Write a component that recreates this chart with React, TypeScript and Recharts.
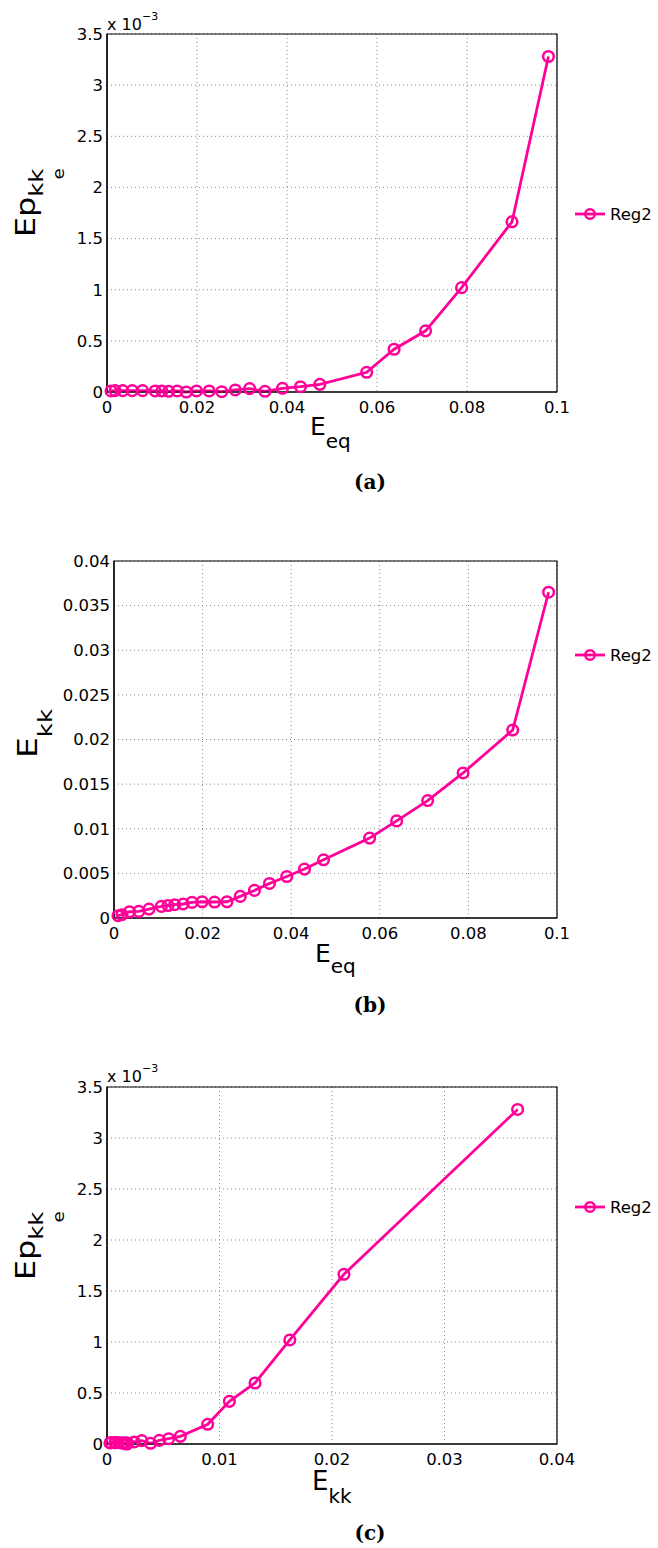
import React from 'react';
import { LineChart, Line, XAxis, YAxis, CartesianGrid, Legend, ReferenceArea } from 'recharts';

// Shared strain samples (Reg2)
const EEQ = [0.0009, 0.0018, 0.0035, 0.0056, 0.0079, 0.0107, 0.0122, 0.0137, 0.0156, 0.0176, 0.0199, 0.0227, 0.0255, 0.0285, 0.0317, 0.0351, 0.039, 0.043, 0.0473, 0.0577, 0.0638, 0.0708, 0.0788, 0.09, 0.0981];
const EKK = [0.00026, 0.00037, 0.0007, 0.00074, 0.001, 0.0013, 0.0014, 0.00149, 0.00157, 0.00175, 0.00182, 0.00179, 0.00182, 0.00242, 0.00309, 0.00387, 0.00465, 0.00548, 0.00652, 0.00895, 0.01088, 0.01316, 0.01625, 0.02106, 0.0365];
// Ep_kk_e in units of 1e-3
const EPKK_E3 = [0.01, 0.013, 0.013, 0.013, 0.013, 0.01, 0.01, 0.007, 0.01, 0.0, 0.01, 0.01, 0.003, 0.02, 0.033, 0.007, 0.036, 0.052, 0.075, 0.193, 0.418, 0.598, 1.02, 1.664, 3.28];

const SERIES_NAME = 'Reg2';
const X_TICKS_EQ = [0, 0.02, 0.04, 0.06, 0.08, 0.1];
const X_TICKS_KK = [0, 0.01, 0.02, 0.03, 0.04];
const Y_TICKS_EP = [0, 0.5, 1, 1.5, 2, 2.5, 3, 3.5];
const Y_TICKS_KK = [0, 0.005, 0.01, 0.015, 0.02, 0.025, 0.03, 0.035, 0.04];

const tableA = EEQ.map((x, i) => ({ x, y: EPKK_E3[i] }));
const tableB = EEQ.map((x, i) => ({ x, y: EKK[i] }));
const tableC = EKK.map((x, i) => ({ x, y: EPKK_E3[i] }));

const COLOR = '#ff0099';
const FONT = "'DejaVu Sans', 'Liberation Sans', Arial, sans-serif";
const SERIF = "'DejaVu Serif', 'Liberation Serif', serif";
const W = 658;
const YW = 60;
const XH = 30;

const fmt = (v: number) => String(+v.toFixed(4));

const LegendContent = () => (
  <svg width={86} height={22} style={{ display: 'block' }}>
    <line x1={3} y1={11} x2={33} y2={11} stroke={COLOR} strokeWidth={2.8} />
    <circle cx={18} cy={11} r={4.8} fill="none" stroke={COLOR} strokeWidth={2.4} />
    <text x={38} y={17} fontSize={16.5} fontFamily={FONT} fill="#000">{SERIES_NAME}</text>
  </svg>
);

type PanelProps = {
  top: number;
  height: number;
  plot: { l: number; t: number; r: number; b: number };
  data: { x: number; y: number }[];
  xTicks: number[];
  yTicks: number[];
  legendY: number;
};

const TICK_STYLE = { stroke: '#000', strokeWidth: 1 };

function Panel({ top, height, plot, data, xTicks, yTicks, legendY }: PanelProps) {
  const margin = { top: plot.t - top, left: plot.l - YW, right: W - plot.r, bottom: top + height - plot.b - XH };
  const xd: [number, number] = [xTicks[0], xTicks[xTicks.length - 1]];
  const yd: [number, number] = [yTicks[0], yTicks[yTicks.length - 1]];
  return (
    <div style={{ position: 'absolute', left: 0, top }}>
      <LineChart width={W} height={height} data={data} margin={margin} style={{ fontFamily: FONT }}>
        <CartesianGrid stroke="#8a8a8a" strokeDasharray="1 3" strokeWidth={1} />
        <XAxis
          dataKey="x"
          type="number"
          domain={xd}
          ticks={xTicks}
          interval={0}
          height={XH}
          tickFormatter={fmt}
          tickLine={false}
          tickSize={0}
          tickMargin={9}
          axisLine={{ stroke: '#000', strokeWidth: 1.2 }}
          tick={{ fill: '#000', fontSize: 16.5 }}
        />
        <YAxis
          dataKey="y"
          type="number"
          domain={yd}
          ticks={yTicks}
          interval={0}
          width={YW}
          tickFormatter={fmt}
          tickLine={false}
          tickSize={0}
          tickMargin={4}
          axisLine={{ stroke: '#000', strokeWidth: 1.2 }}
          tick={{ fill: '#000', fontSize: 16.5 }}
        />
        {/* inward tick marks on all four sides */}
        <XAxis xAxisId="inB" orientation="bottom" mirror type="number" domain={xd} ticks={xTicks} interval={0} height={XH} tick={false} tickLine={TICK_STYLE} tickSize={5} axisLine={false} />
        <XAxis xAxisId="inT" orientation="top" mirror type="number" domain={xd} ticks={xTicks} interval={0} height={XH} tick={false} tickLine={TICK_STYLE} tickSize={5} axisLine={false} />
        <YAxis yAxisId="inL" orientation="left" mirror type="number" domain={yd} ticks={yTicks} interval={0} width={YW} tick={false} tickLine={TICK_STYLE} tickSize={5} axisLine={false} />
        <YAxis yAxisId="inR" orientation="right" mirror type="number" domain={yd} ticks={yTicks} interval={0} width={YW} tick={false} tickLine={TICK_STYLE} tickSize={5} axisLine={false} />
        <ReferenceArea x1={xd[0]} x2={xd[1]} y1={yd[0]} y2={yd[1]} fill="none" fillOpacity={0} stroke="#000" strokeWidth={1.2} ifOverflow="visible" />
        <Line
          type="linear"
          dataKey="y"
          name={SERIES_NAME}
          stroke={COLOR}
          strokeWidth={2.8}
          dot={{ r: 5.3, fill: 'none', stroke: COLOR, strokeWidth: 2.5 }}
          isAnimationActive={false}
        />
        <Legend
          layout="horizontal"
          verticalAlign="middle"
          align="center"
          content={LegendContent}
          wrapperStyle={{ left: 572, top: legendY - top - 11, width: 86, height: 22 }}
        />
      </LineChart>
    </div>
  );
}

function YLabelEp({ bx, sy }: { bx: number; sy: number }) {
  return (
    <text transform={`translate(${bx},${sy}) rotate(-90) scale(1.22,1)`} fontFamily={FONT} fill="#000" fontSize={26}>
      Ep
      <tspan fontSize={20} dy={8}>kk</tspan>
      <tspan fontSize={15} dx={-9} dy={21}>e</tspan>
    </text>
  );
}

function Overlay() {
  return (
    <svg width={W} height={1548} style={{ position: 'absolute', left: 0, top: 0, pointerEvents: 'none' }}>
      {/* (a) */}
      <text x={107} y={30} fontFamily={FONT} fontSize={16} fill="#000">x 10<tspan fontSize={11} dy={-10}>−3</tspan></text>
      <YLabelEp bx={35} sy={237} />
      <text x={310} y={435} fontFamily={FONT} fontSize={25} fill="#000">E<tspan fontSize={20} dy={13}>eq</tspan></text>
      <text x={370} y={489} textAnchor="middle" fontFamily={SERIF} fontWeight="bold" fontSize={20} fill="#000">(a)</text>

      {/* (b) */}
      <text transform="translate(37,758) rotate(-90) scale(1.22,1)" fontFamily={FONT} fill="#000" fontSize={27}>
        E<tspan fontSize={20} dy={15}>kk</tspan>
      </text>
      <text x={315} y={962} fontFamily={FONT} fontSize={25} fill="#000">E<tspan fontSize={20} dy={11}>eq</tspan></text>
      <text x={370} y={1012} textAnchor="middle" fontFamily={SERIF} fontWeight="bold" fontSize={20} fill="#000">(b)</text>

      {/* (c) */}
      <text x={107} y={1082} fontFamily={FONT} fontSize={16} fill="#000">x 10<tspan fontSize={11} dy={-10}>−3</tspan></text>
      <YLabelEp bx={35} sy={1280} />
      <text x={312} y={1490} fontFamily={FONT} fontSize={26} fill="#000">E<tspan fontSize={20} dy={13}>kk</tspan></text>
      <text x={370} y={1540} textAnchor="middle" fontFamily={SERIF} fontWeight="bold" fontSize={20} fill="#000">(c)</text>
    </svg>
  );
}

export default function App() {
  return (
    <div style={{ position: 'absolute', left: 0, top: 0, width: W, height: 1548, background: '#fff' }}>
      <Panel top={0} height={470} plot={{ l: 107, t: 34, r: 557, b: 392 }} data={tableA} xTicks={X_TICKS_EQ} yTicks={Y_TICKS_EP} legendY={214} />
      <Panel top={500} height={470} plot={{ l: 114, t: 561, r: 557, b: 918 }} data={tableB} xTicks={X_TICKS_EQ} yTicks={Y_TICKS_KK} legendY={655} />
      <Panel top={1030} height={470} plot={{ l: 107, t: 1087, r: 557, b: 1444 }} data={tableC} xTicks={X_TICKS_KK} yTicks={Y_TICKS_EP} legendY={1207} />
      <Overlay />
    </div>
  );
}
